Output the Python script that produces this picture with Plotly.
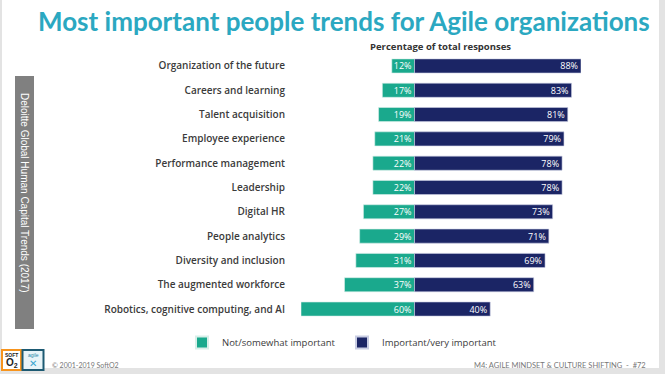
import plotly.graph_objects as go

categories = [
    "Organization of the future",
    "Careers and learning",
    "Talent acquisition",
    "Employee experience",
    "Performance management",
    "Leadership",
    "Digital HR",
    "People analytics",
    "Diversity and inclusion",
    "The augmented workforce",
    "Robotics, cognitive computing, and AI",
]
not_important = [12, 17, 19, 21, 22, 22, 27, 29, 31, 37, 60]
important = [88, 83, 81, 79, 78, 78, 73, 71, 69, 63, 40]
series_names = ["Not/somewhat important", "Important/very important"]

W, H = 665, 374
GREEN = "#1aa98d"
NAVY = "#1b2565"

def px(x):
    return x / W

def py(y):
    return 1 - y / H

fig = go.Figure()
fig.add_trace(go.Bar(
    y=categories, x=[-v for v in not_important], orientation="h",
    name=series_names[0], marker=dict(color=GREEN, line=dict(color="#d8efe9", width=0.6)),
    text=[f"{v}%" for v in not_important], textposition="inside", insidetextanchor="start",
    textfont=dict(color="white", size=9, family="Open Sans"), hoverinfo="skip",
))
fig.add_trace(go.Bar(
    y=categories, x=important, orientation="h",
    name=series_names[1], marker=dict(color=NAVY, line=dict(color="#c9cde3", width=0.6)),
    text=[f"{v}%" for v in important], textposition="inside", insidetextanchor="end",
    textfont=dict(color="white", size=9, family="Open Sans"), hoverinfo="skip",
))

x0_pix, x1_pix = 301, 581
fig.update_layout(
    width=W, height=H, margin=dict(l=0, r=0, t=0, b=0),
    paper_bgcolor="#e3e3e3", plot_bgcolor="rgba(0,0,0,0)",
    barmode="relative", bargap=0.42,
    uniformtext=dict(minsize=8, mode="show"),
    xaxis=dict(domain=[px(x0_pix), px(x1_pix)], range=[-60, 88], visible=False, fixedrange=True),
    yaxis=dict(domain=[py(321.2), py(53.8)], autorange="reversed", showgrid=False, zeroline=False,
               showline=False, ticks="", ticklabelstandoff=15,
               tickfont=dict(family="Open Sans", size=10, color="#3b3b3b", weight=600)),
    legend=dict(orientation="h", x=px(182), y=py(328), xanchor="left", yanchor="top",
                font=dict(family="Open Sans", size=9.5, color="#3b3b3b"),
                bgcolor="rgba(0,0,0,0)", entrywidth=115, itemsizing="constant"),
    showlegend=True,
)

shapes = [
    dict(type="rect", xref="paper", yref="paper", x0=px(2), x1=px(659), y0=py(368), y1=py(0),
         fillcolor="white", line=dict(width=0), layer="below"),
    dict(type="rect", xref="paper", yref="paper", x0=px(15), x1=px(34), y0=py(329), y1=py(76),
         fillcolor="#808080", line=dict(width=0)),
    dict(type="rect", xref="paper", yref="paper", x0=px(2), x1=px(21), y0=py(370), y1=py(350),
         fillcolor="white", line=dict(color="#f7941d", width=2)),
    dict(type="rect", xref="paper", yref="paper", x0=px(22.5), x1=px(43.5), y0=py(370), y1=py(350),
         fillcolor="#e8f4f8", line=dict(color="#1d5a73", width=2)),
]
fig.update_layout(shapes=shapes)

ann = [
    dict(text="<b>Most important people trends for Agile organizations</b>", x=px(344), y=py(21),
         font=dict(family="Lato", size=26, color="#2ba8c1", weight=900)),
    dict(text="<b>Percentage of total responses</b>", x=px(440), y=py(46),
         font=dict(family="Open Sans", size=9.5, color="#333333")),
    dict(text="Deloitte Global Human Capital Trends (2017)", x=px(24.5), y=py(192.5), textangle=90,
         font=dict(family="Liberation Sans", size=10, color="white")),
    dict(text="© 2001-2019 SoftO2", x=px(50), y=py(365), xanchor="left",
         font=dict(family="Lato", size=7, color="#777777")),
    dict(text="M4: AGILE MINDSET &amp; CULTURE SHIFTING  -  #72", x=px(648), y=py(365), xanchor="right",
         font=dict(family="Lato", size=7.5, color="#777777")),
    dict(text="<b>SOFT</b>", x=px(11.5), y=py(354.5), font=dict(family="Liberation Sans", size=5, color="#222")),
    dict(text="<b>O<sub>2</sub></b>", x=px(11.5), y=py(363), font=dict(family="Liberation Sans", size=10, color="#222")),
    dict(text="agile", x=px(33), y=py(354.5), font=dict(family="Liberation Sans", size=5, color="#2a87a8")),
    dict(text="✕", x=px(33), y=py(363), font=dict(family="DejaVu Sans", size=10, color="#3aa6d0")),
]
for a in ann:
    a.setdefault("xref", "paper")
    a.setdefault("yref", "paper")
    a.setdefault("showarrow", False)
    a.setdefault("xanchor", "center")
    a.setdefault("yanchor", "middle")
fig.update_layout(annotations=ann)

fig.write_html("out.html", config={"displayModeBar": False},
               post_script="document.body.style.margin='0';document.body.style.overflow='hidden';")
